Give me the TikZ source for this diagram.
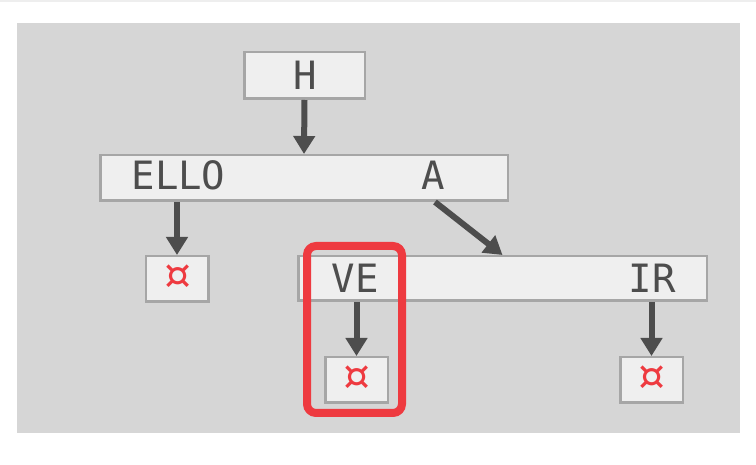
\documentclass[tikz,border=0pt]{standalone}
\usepackage{fontspec}
\setmonofont{DejaVu Sans Mono}
\usetikzlibrary{arrows.meta,calc}
\definecolor{panel}{HTML}{D6D6D6}
\definecolor{boxfill}{HTML}{EFEFEF}
\definecolor{boxline}{HTML}{A6A6A6}
\definecolor{ink}{HTML}{4D4D4D}
\definecolor{hired}{HTML}{EE3A40}
\definecolor{topline}{HTML}{EEEEEE}
\begin{document}
\begin{tikzpicture}[x=1pt,y=-1pt,
  box/.style={draw=boxline, fill=boxfill, line width=2.5pt, inner sep=0pt},
  lbl/.style={text=ink, font=\ttfamily\fontsize{39}{39}\selectfont, inner sep=0pt, anchor=base},
  nul/.style={box, text=hired, font=\ttfamily\fontsize{52}{52}\selectfont, minimum width=62.5pt, minimum height=45.5pt},
  arr/.style={draw=ink, line width=6pt, -{Triangle[length=18pt,width=21pt]}},
  hl/.style={draw=hired, line width=8pt, rounded corners=9pt}]
\useasboundingbox (0,0) rectangle (756,465);
\fill[white] (0,0) rectangle (756,465);
\draw[topline, line width=2pt] (0,1) -- (756,1);
\fill[panel] (17,23) rectangle (740,433);
% boxes
\node[box, minimum width=120.5pt, minimum height=46.5pt] (b1) at (304.5,75.5) {};
\node[box, minimum width=407.5pt, minimum height=45.5pt] (b2) at (304,178) {};
\node[box, minimum width=408.5pt, minimum height=44.5pt] (b3) at (502.5,278.5) {};
\node[nul] (n1) at (177,279) {};
\node[nul] (n2) at (356.5,380) {};
\node[nul] (n3) at (651.5,380) {};
\node[text=hired, font=\ttfamily\fontsize{52}{52}\selectfont, inner sep=0pt] (s1) at (n1.center) {¤};
\node[text=hired, font=\ttfamily\fontsize{52}{52}\selectfont, inner sep=0pt] (s2) at (n2.center) {¤};
\node[text=hired, font=\ttfamily\fontsize{52}{52}\selectfont, inner sep=0pt] (s3) at (n3.center) {¤};
% labels
\node[lbl] (tH) at (305,90) {H};
\node[lbl] (tE) at (178.5,190) {ELLO};
\node[lbl] (tA) at (433,190) {A};
\node[lbl] (tV) at (355,293) {VE};
\node[lbl] (tI) at (652,293) {IR};
% arrows
\draw[arr] (b1.south) -- (b2.north);
\draw[arr] (n1.north |- b2.south) -- (n1.north);
\draw[arr] ($(tA.base |- b2.south)+(2,0)$) -- (b3.north);
\draw[arr] (n2.north |- b3.south) -- (n2.north);
\draw[arr] (n3.north |- b3.south) -- (n3.north);
% highlight
\coordinate (hlA) at (307,246);
\coordinate (hlB) at (402,413);
\draw[hl] (hlA) rectangle (hlB);
\end{tikzpicture}
\end{document}
